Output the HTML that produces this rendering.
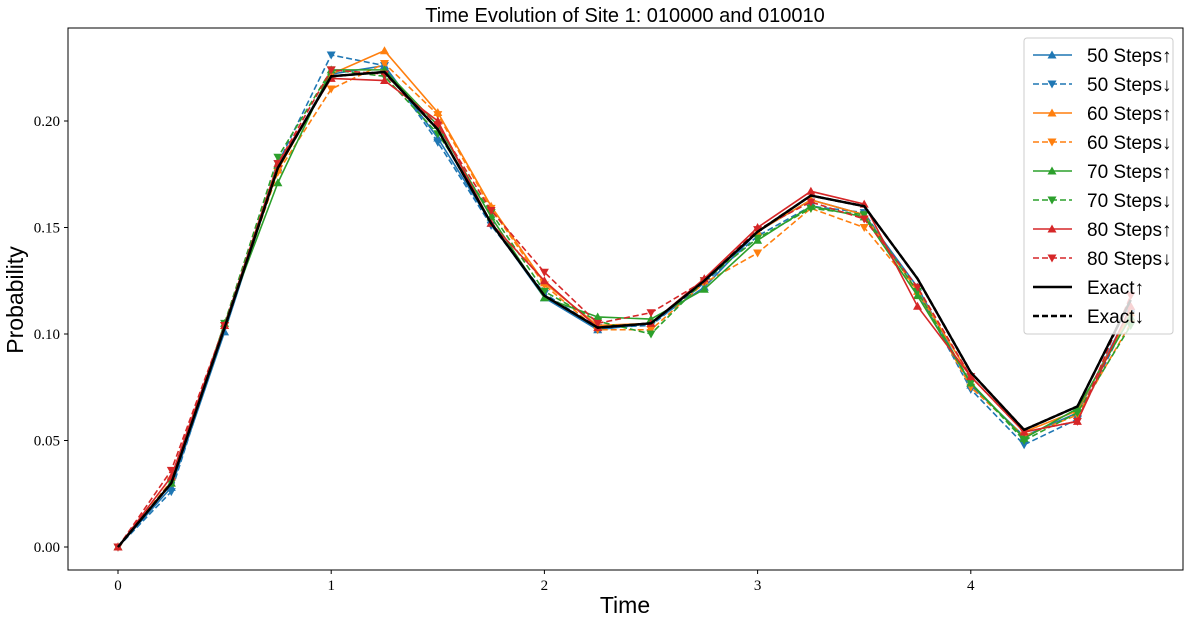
<!DOCTYPE html>
<html><head><meta charset="utf-8"><style>
body{margin:0;background:#fff;width:1190px;height:625px;overflow:hidden}
svg{display:block}
.tk{font-family:"Liberation Serif",serif;font-size:15px;fill:#000}
.lb{font-family:"Liberation Sans",sans-serif;fill:#000}
</style></head><body>
<svg id="c" width="1190" height="625"></svg>
<script>
const times=[0,0.25,0.5,0.75,1,1.25,1.5,1.75,2,2.25,2.5,2.75,3,3.25,3.5,3.75,4,4.25,4.5,4.75];
const s50up=[0,0.028,0.101,0.178,0.222,0.226,0.192,0.152,0.117,0.102,0.105,0.122,0.148,0.163,0.156,0.122,0.076,0.052,0.063,0.112];
const s50dn=[0,0.026,0.104,0.180,0.231,0.226,0.190,0.151,0.119,0.103,0.104,0.124,0.146,0.160,0.157,0.120,0.074,0.048,0.060,0.110];
const s60up=[0,0.030,0.104,0.177,0.222,0.233,0.204,0.160,0.124,0.104,0.105,0.125,0.148,0.163,0.156,0.120,0.080,0.054,0.064,0.110];
const s60dn=[0,0.031,0.104,0.176,0.215,0.227,0.203,0.159,0.123,0.102,0.102,0.124,0.138,0.159,0.150,0.120,0.075,0.052,0.062,0.105];
const s70up=[0,0.030,0.105,0.171,0.224,0.224,0.198,0.155,0.117,0.108,0.107,0.121,0.144,0.160,0.155,0.118,0.077,0.051,0.065,0.108];
const s70dn=[0,0.030,0.105,0.183,0.224,0.221,0.194,0.157,0.120,0.106,0.100,0.125,0.145,0.159,0.156,0.120,0.077,0.050,0.063,0.104];
const s80up=[0,0.033,0.104,0.180,0.220,0.219,0.200,0.152,0.125,0.103,0.105,0.126,0.150,0.167,0.161,0.113,0.080,0.054,0.059,0.113];
const s80dn=[0,0.036,0.104,0.180,0.224,0.222,0.198,0.158,0.129,0.105,0.110,0.125,0.149,0.162,0.154,0.122,0.080,0.054,0.059,0.118];
const exUp=[0,0.030,0.103,0.178,0.221,0.223,0.196,0.152,0.118,0.103,0.105,0.125,0.148,0.165,0.160,0.126,0.082,0.055,0.066,0.116];
const exDn=[0,0.030,0.103,0.178,0.221,0.223,0.196,0.152,0.118,0.103,0.105,0.125,0.148,0.165,0.160,0.126,0.082,0.055,0.066,0.116];
const xTicks=[0,1,2,3,4];
const yTicks=[0,0.05,0.10,0.15,0.20];
const yTickLabels=["0.00","0.05","0.10","0.15","0.20"];
const names=["50 Steps↑","50 Steps↓","60 Steps↑","60 Steps↓","70 Steps↑","70 Steps↓","80 Steps↑","80 Steps↓","Exact↑","Exact↓"];

const L=68,R=1183,T=28,B=570;
const x=v=>118+v*213.2;
const y=v=>547-v*2130;
const svg=document.getElementById('c');
const NS='http://www.w3.org/2000/svg';
function mk(tag,a,parent){const e=document.createElementNS(NS,tag);for(const k in a)e.setAttribute(k,a[k]);(parent||svg).appendChild(e);return e;}

const series=[[s50up,'#1f77b4',0,'up'],[s50dn,'#1f77b4',1,'dn'],[s60up,'#ff7f0e',0,'up'],[s60dn,'#ff7f0e',1,'dn'],[s70up,'#2ca02c',0,'up'],[s70dn,'#2ca02c',1,'dn'],[s80up,'#d62728',0,'up'],[s80dn,'#d62728',1,'dn'],[exUp,'#000',0,null],[exDn,'#000',1,null]];
function marker(g,cx,cy,kind,col){
  const p=kind==='up'?`${cx},${cy-4.5} ${cx-4.5},${cy+3.5} ${cx+4.5},${cy+3.5}`:`${cx},${cy+4.5} ${cx-4.5},${cy-3.5} ${cx+4.5},${cy-3.5}`;
  mk('polygon',{points:p,fill:col},g);
}
series.forEach((s,i)=>{
  const g=mk('g',{});
  
  
  const pts=s[0].map((v,j)=>x(times[j])+','+y(v)).join(' ');
  mk('polyline',{points:pts,fill:'none',stroke:s[1],'stroke-width':s[3]?1.6:2.4,'stroke-dasharray':s[2]?'6,3':'none'},g);
  if(s[3])s[0].forEach((v,j)=>marker(g,x(times[j]),y(v),s[3],s[1]));
});
// axes frame
const fr=mk('rect',{x:L,y:T,width:R-L,height:B-T,fill:'none',stroke:'#000','stroke-width':1});

xTicks.forEach(v=>{mk('line',{x1:x(v),x2:x(v),y1:B,y2:B+4,stroke:'#000'});const t=mk('text',{x:x(v),y:B+20,'text-anchor':'middle',class:'tk'});t.textContent=v;});
yTicks.forEach((v,i)=>{mk('line',{x1:L-4,x2:L,y1:y(v),y2:y(v),stroke:'#000'});const t=mk('text',{x:L-8,y:y(v)+5,'text-anchor':'end',class:'tk'});t.textContent=yTickLabels[i];});
let t=mk('text',{x:625,y:22,'text-anchor':'middle',class:'lb','font-size':20});t.textContent='Time Evolution of Site 1: 010000 and 010010';
t=mk('text',{x:625,y:613,'text-anchor':'middle',class:'lb','font-size':23});t.textContent='Time';
t=mk('text',{x:23,y:300,'text-anchor':'middle',class:'lb','font-size':23,transform:'rotate(-90 23 300)'});t.textContent='Probability';
// legend
const lg=mk('g',{});
mk('rect',{x:1024,y:38,width:149,height:296,rx:3,fill:'#fff','fill-opacity':0.8,stroke:'#ccc'},lg);
series.forEach((s,i)=>{
  const e=mk('g',{},lg);
  const yy=55+i*29;
  mk('line',{x1:1033,x2:1072,y1:yy,y2:yy,stroke:s[1],'stroke-width':s[3]?1.6:2.4,'stroke-dasharray':s[2]?'6,3':'none'},e);
  if(s[3])marker(e,1052,yy,s[3],s[1]);
  const tx=mk('text',{x:1087,y:yy+7,class:'lb','font-size':19},e);tx.textContent=names[i];
});
</script>
</body></html>
